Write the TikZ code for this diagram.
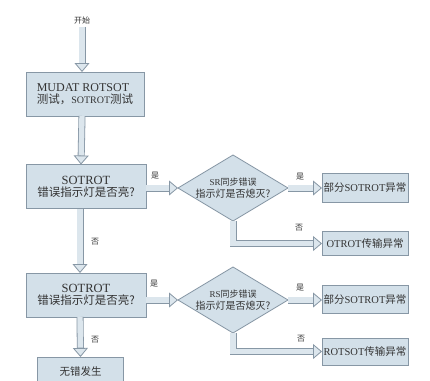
\documentclass[tikz,border=0pt]{standalone}
\usepackage{fontspec}
\setmainfont{Liberation Serif}
\newfontfamily\cjk{Noto Sans CJK SC}
\usetikzlibrary{arrows.meta,shapes.geometric}
\definecolor{edge}{HTML}{8797A5}
\definecolor{bfill}{HTML}{D3E0E9}
\definecolor{afill}{HTML}{DCE6ED}
\definecolor{txt}{HTML}{333333}
\begin{document}
\begin{tikzpicture}[x=1pt,y=-1pt]
\tikzset{
  box/.style={draw=edge, fill=bfill, line width=0.8pt, inner sep=0pt, outer sep=0pt, text=txt, align=center},
  dia/.style={draw=edge, fill=bfill, line width=0.8pt, diamond, inner sep=0pt, outer sep=0pt, minimum width=110pt, minimum height=66pt},
  lbl/.style={text=txt, inner sep=0pt, font=\cjk\fontsize{8}{9}\selectfont},
  fat/.style={draw=edge, line width=7pt, line join=miter,
    -{Triangle[length=9pt,width=15pt,line width=0.8pt,fill=afill]},
    postaction={draw=afill, line width=5.4pt, -, shorten >=9.3pt}},
}
\useasboundingbox[fill=white] (0,0) rectangle (430,380);
% start
\node[lbl] (s) at (82,20) {开始};
% main boxes
\node[box, minimum width=118pt, minimum height=44pt, align=left] (b1) at (85,94)
  {\fontsize{12}{17}\selectfont MUDAT ROTSOT\\{\cjk\fontsize{11.5}{17}\selectfont 测试，}SOTROT{\cjk\fontsize{11.5}{17}\selectfont 测试}};
\node[box, minimum width=120pt, minimum height=44pt] (b2) at (86,186.5)
  {\fontsize{12.5}{17}\selectfont SOTROT\\{\cjk\fontsize{11.5}{17}\selectfont 错误指示灯是否亮?}};
\node[box, minimum width=120pt, minimum height=44pt] (b3) at (86,295)
  {\fontsize{12.5}{17}\selectfont SOTROT\\{\cjk\fontsize{11.5}{17}\selectfont 错误指示灯是否亮?}};
\node[box, minimum width=86pt, minimum height=28pt, anchor=north] (b4) at (80.5,357)
  {\cjk\fontsize{10.5}{12}\selectfont 无错发生};
% diamonds
\node[dia] (d1) at (233,188) {};
\node[text=txt, align=center, inner sep=0pt] (t1) at (d1)
  {\fontsize{9}{15}\selectfont SR{\cjk 同步错误}\\{\cjk 指示灯是否熄灭?}};
\node[dia] (d2) at (233,300) {};
\node[text=txt, align=center, inner sep=0pt] (t2) at (d2)
  {\fontsize{9}{15}\selectfont RS{\cjk 同步错误}\\{\cjk 指示灯是否熄灭?}};
% right boxes
\node[box, minimum width=86pt, minimum height=29pt] (r1) at (365,187.5)
  {\fontsize{10.5}{12}\selectfont{\cjk 部分}SOTROT{\cjk 异常}};
\node[box, minimum width=86pt, minimum height=24pt] (r2) at (365,243.5)
  {\fontsize{10.5}{12}\selectfont OTROT{\cjk 传输异常}};
\node[box, minimum width=86pt, minimum height=28pt] (r3) at (365,299)
  {\fontsize{10.5}{12}\selectfont{\cjk 部分}SOTROT{\cjk 异常}};
\node[box, minimum width=86pt, minimum height=27pt] (r4) at (365,351.5)
  {\fontsize{10.5}{12}\selectfont ROTSOT{\cjk 传输异常}};
% connectors
\draw[fat] ([yshift=-3pt]s.south) -- (s.south |- b1.north);
\draw[fat] ([xshift=-3pt]b1.south) -- ([xshift=-4pt]b1.south |- b2.north);
\draw[fat] (b2.east |- d1.west) -- (d1.west);
\draw[fat] (d1.east) -- (r1.west |- d1.east);
\draw[fat] (d1.south) |- (r2.west);
\draw[fat] ([xshift=-6pt]b2.south) -- ([xshift=-6pt]b3.north);
\draw[fat] (b3.east |- d2.west) -- (d2.west);
\draw[fat] (d2.east) -- (r3.west |- d2.east);
\draw[fat] (d2.south) |- (r4.west);
\draw[fat] ([xshift=-6pt]b3.south) -- (b4.north);
% labels
\node[lbl] (y1) at (155,176) {是};
\node[lbl] (y2) at (300,177) {是};
\node[lbl] (n1) at (299,228) {否};
\node[lbl] (n2) at (95,242) {否};
\node[lbl] (y3) at (154,284) {是};
\node[lbl] (y4) at (300,288) {是};
\node[lbl] (n3) at (301,339) {否};
\node[lbl] (n4) at (95,340) {否};
\end{tikzpicture}
\end{document}
